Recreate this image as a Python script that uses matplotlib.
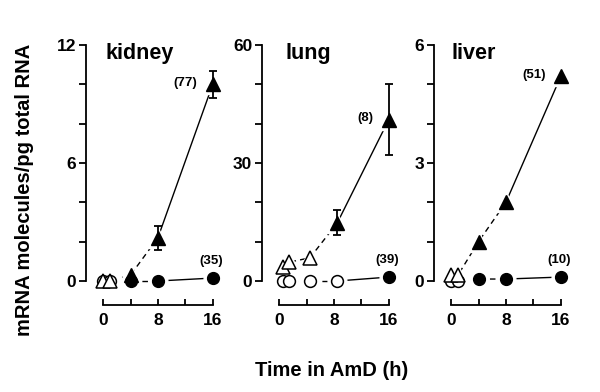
"""
Three panels: mRNA molecules/pg total RNA over time in AmD
"""

import matplotlib
matplotlib.use('Agg')
import matplotlib.pyplot as plt

plt.rcParams['font.family'] = ['Liberation Sans', 'DejaVu Sans']
plt.rcParams['font.weight'] = 'bold'

panel_names = ['kidney', 'lung', 'liver']
y_max = [12, 60, 6]
y_step = [2, 10, 1]
title_x = [0.3, 0.9, 0.1]

# triangles (upper series)
tri_x = {'kidney': [0, 1, 4, 8, 16],
         'lung': [0.5, 1.5, 4.5, 8.5, 16],
         'liver': [0, 1, 4, 8, 16]}
tri_y = {'kidney': [0, 0, 0.3, 2.2, 10.0],
         'lung': [3.5, 4.8, 5.9, 14.8, 41.0],
         'liver': [0.15, 0.15, 1.0, 2.0, 5.2]}
tri_err = {'kidney': [0, 0, 0, 0.6, 0.7],
           'lung': [0, 0, 0, 3.2, 9.0],
           'liver': [0, 0, 0, 0, 0]}
tri_open = {'kidney': 2, 'lung': 3, 'liver': 2}   # first n points are open

# circles (lower series)
circ_x = {'kidney': [0, 1, 4, 8, 16],
          'lung': [0.5, 1.5, 4.5, 8.5, 16],
          'liver': [0, 1, 4, 8, 16]}
circ_y = {'kidney': [0, 0, 0, 0, 0.15],
          'lung': [0, 0, 0, 0, 1.0],
          'liver': [0, 0, 0.05, 0.05, 0.1]}
circ_open = {'kidney': 2, 'lung': 4, 'liver': 2}

tri_label = {'kidney': '(77)', 'lung': '(8)', 'liver': '(51)'}
circ_label = {'kidney': '(35)', 'lung': '(39)', 'liver': '(10)'}

x_ticks = [0, 4, 8, 12, 16]
x_ticklabels = ['0', '', '8', '', '16']

fig = plt.figure(figsize=(6.0, 3.92), dpi=100)
lefts = [86, 262, 434]


def draw_series(ax, xs, ys, n_open, marker, ms):
    # dashed early part, solid last segment
    ax.plot(xs[:-1], ys[:-1], '--', color='black', lw=1.0, dashes=(4, 3), zorder=1, clip_on=False)
    ax.plot(xs[-2:], ys[-2:], '-', color='black', lw=1.0, zorder=1, clip_on=False)
    # white halos leave a gap round each marker
    ax.plot(xs, ys, ls='none', marker=marker, ms=ms + 5, mfc='white', mec='white', zorder=2, clip_on=False)
    ax.plot(xs[:n_open], ys[:n_open], ls='none', marker=marker, ms=ms, mfc='white',
            mec='black', mew=1.1, zorder=4, clip_on=False)
    ax.plot(xs[n_open:], ys[n_open:], ls='none', marker=marker, ms=ms, mfc='black',
            mec='black', zorder=4, clip_on=False)


for i, name in enumerate(panel_names):
    ax = fig.add_axes([lefts[i] / 600, 1 - 305 / 392, 137 / 600, (305 - 45) / 392])
    ymax = y_max[i]
    bottom = -ymax * 24 / 236
    ax.set_xlim(-2.5, 17.5)
    ax.set_ylim(bottom, ymax)

    for s in ['top', 'right']:
        ax.spines[s].set_visible(False)
    ax.spines['left'].set_bounds(0, ymax)
    ax.spines['bottom'].set_bounds(0, 16)
    ax.spines['left'].set_linewidth(1.3)
    ax.spines['bottom'].set_linewidth(1.3)

    yt = list(range(0, ymax + 1, y_step[i]))
    ax.set_yticks(yt)
    ax.set_yticklabels([str(v) if v in (0, ymax // 2, ymax) else '' for v in yt])
    ax.set_xticks(x_ticks)
    ax.set_xticklabels(x_ticklabels)
    ax.tick_params(axis='y', direction='out', length=5, width=1.3, labelsize=12.5, pad=2)
    ax.tick_params(axis='x', direction='in', length=4, width=1.3, labelsize=12.5, pad=6)
    for lab in ax.get_xticklabels() + ax.get_yticklabels():
        lab.set_fontweight('bold')

    draw_series(ax, circ_x[name], circ_y[name], circ_open[name], 'o', 8.5)
    draw_series(ax, tri_x[name], tri_y[name], tri_open[name], '^', 10)

    err = tri_err[name]
    ex = [x for x, e in zip(tri_x[name], err) if e > 0]
    ey = [y for y, e in zip(tri_y[name], err) if e > 0]
    ee = [e for e in err if e > 0]
    if ee:
        ax.errorbar(ex, ey, yerr=ee, fmt='none', ecolor='black', elinewidth=1.3,
                    capsize=3, capthick=1.3, zorder=5, clip_on=False)

    ax.text(title_x[i], ymax * 1.01, name, fontsize=15.5, fontweight='bold', va='top', ha='left')
    ax.annotate(tri_label[name], xy=(tri_x[name][-1], tri_y[name][-1]), xytext=(-11, 1),
                textcoords='offset points', ha='right', va='center', fontsize=9.5, fontweight='bold')
    ax.annotate(circ_label[name], xy=(circ_x[name][-1], circ_y[name][-1]), xytext=(-1, 8),
                textcoords='offset points', ha='center', va='bottom', fontsize=9.5, fontweight='bold')

fig.text(25 / 600, 1 - 190 / 392, 'mRNA molecules/pg total RNA', rotation=90, ha='center', va='center',
         fontsize=14.5, fontweight='bold')
fig.text(332 / 600, 1 - 370 / 392, 'Time in AmD (h)', ha='center', va='center',
         fontsize=14.5, fontweight='bold')

plt.savefig('out.png', dpi=100)
